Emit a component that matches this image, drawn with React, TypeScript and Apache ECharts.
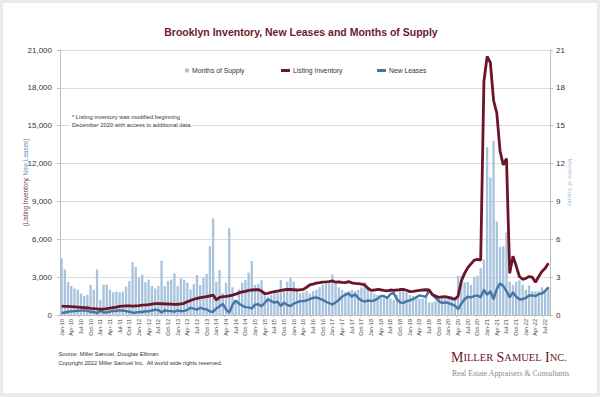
import React, { useEffect, useRef } from "react";
import * as echarts from "echarts";

const MONTH_NAMES = ["Jan", "Feb", "Mar", "Apr", "May", "Jun", "Jul", "Aug", "Sep", "Oct", "Nov", "Dec"];
const YEAR_SUFFIXES = ["10", "11", "12", "13", "14", "15", "16", "17", "18", "19", "20", "21", "22"];
const LAST_YEAR_MONTHS = 8; // data runs through Aug-22

const categories: string[] = [];
YEAR_SUFFIXES.forEach((y, yi) => {
  const n = yi === YEAR_SUFFIXES.length - 1 ? LAST_YEAR_MONTHS : 12;
  for (let m = 0; m < n; m++) categories.push(`${MONTH_NAMES[m]}-${y}`);
});

// Listing Inventory (left axis)
const listingInventory = [
  700, 690, 680, 670, 650, 630, 610, 590, 560, 530, 510, 480,
  460, 470, 500, 540, 580, 620, 680, 710, 720, 720, 710, 730,
  750, 780, 800, 830, 870, 900, 900, 890, 880, 870, 860, 840,
  850, 880, 930, 1050, 1150, 1250, 1320, 1380, 1420, 1450, 1520, 1580,
  1200, 1400, 1450, 1480, 1520, 1580, 1650, 1750, 1830, 1880, 1950, 1980,
  2000, 2010, 1900, 1700, 1720, 1800, 1850, 1900, 1950, 2000, 2030, 2020,
  2000, 1980, 2000, 2030, 2200, 2380, 2450, 2530, 2560, 2600, 2620, 2650,
  2700, 2600, 2620, 2580, 2560, 2640, 2550, 2500, 2480, 2450, 2380, 2120,
  1950, 1980, 2030, 2000, 1950, 1920, 1980, 1950, 1980, 2020, 2030, 1960,
  1850, 1880, 1920, 1950, 1980, 2000, 1980, 1620, 1500, 1400, 1430, 1450,
  1400, 1320, 1250, 1500, 2700, 3300, 3750, 4050, 4350, 4400, 4350, 18500,
  20500, 20000, 17000, 16000, 13000, 11900, 12400, 3300, 4650, 3900, 3050, 2830,
  2900, 3050, 3000, 2600, 3050, 3450, 3700, 4100,
];

// New Leases (left axis)
const newLeases = [
  160, 200, 260, 290, 310, 330, 350, 370, 330, 240, 250, 140,
  360, 200, 220, 270, 320, 340, 370, 360, 310, 260, 180, 190,
  250, 240, 300, 290, 360, 420, 390, 200, 370, 320, 310, 260,
  370, 300, 330, 410, 570, 510, 420, 580, 480, 450, 280, 260,
  520, 700, 880, 450, 180, 800, 1150, 900, 750, 620, 600, 520,
  820, 850, 700, 950, 1250, 1100, 980, 1050, 720, 980, 800, 700,
  900, 1000, 1100, 1100, 1150, 1250, 1350, 1400, 1300, 1200, 1050, 950,
  830, 1000, 1200, 1450, 1600, 1720, 1450, 1650, 1350, 1150, 1050, 1150,
  1100, 1150, 1300, 1500, 1500, 1350, 1650, 1750, 1250, 1000, 950, 1100,
  1150, 1250, 1400, 1550, 1500, 1450, 1950, 1600, 1350, 1100, 950, 1000,
  950, 850, 750, 470, 900, 1250, 1450, 1400, 1500, 1550, 1400, 2000,
  1600, 1900, 1250, 2050, 2500, 2300, 1900, 1400, 1800, 1450, 1250, 1250,
  1350, 1550, 1550, 1500, 1650, 1700, 1900, 2200,
];

// Months of Supply (right axis)
const monthsOfSupply = [
  4.5, 3.6, 2.6, 2.3, 2.1, 2.0, 1.7, 1.5, 1.6, 2.4, 2.0, 3.6,
  1.2, 2.4, 2.4, 2.0, 1.8, 1.85, 1.8, 1.85, 2.25, 2.7, 4.2, 3.8,
  3.0, 3.2, 2.6, 2.8, 2.3, 2.1, 2.3, 4.3, 2.3, 2.7, 2.8, 3.3,
  2.3, 2.9, 2.8, 2.56, 2.03, 2.45, 3.17, 2.38, 2.98, 3.25, 5.47, 7.66,
  2.64, 3.57, 1.72, 2.56, 6.87, 2.19, 1.19, 2.03, 2.56, 2.77, 3.35, 4.28,
  2.38, 2.45, 2.77, 1.85, 1.45, 1.58, 1.85, 1.77, 2.77, 1.98, 2.64, 2.96,
  2.64, 1.98, 1.72, 1.8, 1.9, 1.7, 1.9, 2.0, 2.2, 2.4, 2.5, 2.5,
  3.2, 2.5, 2.2, 2.0, 1.8, 1.9, 2.0, 1.9, 2.0, 2.2, 2.6, 2.1,
  1.8, 1.7, 1.6, 1.4, 1.4, 1.5, 1.3, 1.2, 1.6, 1.9, 2.0, 1.8,
  1.6, 1.5, 1.4, 1.3, 1.3, 1.4, 1.0, 1.0, 1.1, 1.3, 1.4, 1.4,
  1.4, 1.5, 1.4, 3.1, 3.1, 2.6, 2.6, 2.4, 3.0, 3.1, 3.7, 4.4,
  13.3, 10.9, 13.8, 7.4, 5.4, 5.45, 6.55, 2.64, 2.4, 2.64, 2.75, 2.4,
  2.0, 2.35, 1.9, 1.85, 1.9, 2.2, 1.9, 2.2,
];

const LEFT_MAX = 21000;
const LEFT_INTERVAL = 3000;
const RIGHT_MAX = 21;
const RIGHT_INTERVAL = 3;

const TITLE = "Brooklyn Inventory, New Leases and Months of Supply";
const NOTE_LINES = ["* Listing inventory was modified beginning", "December 2020 with access to additional data."];
const SOURCE = "Source: Miller Samuel, Douglas Elliman";
const COPYRIGHT = "Copyright 2022 Miller Samuel Inc.  All world wide rights reserved.";

const SANS = "'Liberation Sans', Arial, sans-serif";
const SERIF = "'Liberation Serif', 'DejaVu Serif', serif";
const MAROON = "#6b1528";
const BLUE = "#4575a5";
const BAR = "#a8c3dd";

const fmt = (v: number) => String(v).replace(/\B(?=(\d{3})+(?!\d))/g, ",");

function txt(x: number, y: number, text: string, style: any, extra: any = {}) {
  return {
    type: "text",
    x,
    y,
    z: 10,
    ...extra,
    style: {
      text,
      fontFamily: SANS,
      textAlign: "left",
      textVerticalAlign: "middle",
      align: "left",
      verticalAlign: "middle",
      ...style,
    },
  };
}

export default function App() {
  const ref = useRef<HTMLDivElement>(null);
  useEffect(() => {
    if (!ref.current) return;
    const chart = echarts.init(ref.current, null, { renderer: "svg" });
    const legendBase = {
      top: 67,
      padding: 0,
      itemGap: 0,
      textStyle: { fontSize: 6.8, color: "#333", fontFamily: SANS, padding: [0, 0, 0, -2] },
      selectedMode: false,
    };
    chart.setOption({
      animation: false,
      backgroundColor: "#ebebeb",
      textStyle: { fontFamily: SANS },
      grid: { left: 60, right: 50, top: 50, bottom: 82 },
      legend: [
        { ...legendBase, left: 185, data: [{ name: "Months of Supply", icon: "rect" }], itemWidth: 4, itemHeight: 4 },
        { ...legendBase, left: 281, data: [{ name: "Listing Inventory", icon: "rect" }], itemWidth: 9, itemHeight: 3 },
        { ...legendBase, left: 377, data: [{ name: "New Leases", icon: "rect" }], itemWidth: 9, itemHeight: 3 },
      ],
      xAxis: {
        type: "category",
        data: categories,
        boundaryGap: true,
        axisLine: { lineStyle: { color: "#bfbfbf" } },
        axisTick: { show: true, interval: 2, length: 2, lineStyle: { color: "#bfbfbf" } },
        axisLabel: { interval: 2, rotate: 90, fontSize: 5.6, color: "#444", margin: 4, fontFamily: SANS },
        splitLine: { show: false },
      },
      yAxis: [
        {
          type: "value",
          min: 0,
          max: LEFT_MAX,
          interval: LEFT_INTERVAL,
          axisLine: { show: true, lineStyle: { color: "#bfbfbf" } },
          axisTick: { show: true, length: 3, lineStyle: { color: "#bfbfbf" } },
          axisLabel: { fontSize: 8, color: "#333", margin: 8, formatter: fmt, fontFamily: SANS },
          splitLine: { show: true, lineStyle: { color: "#dcdcdc", width: 1 } },
        },
        {
          type: "value",
          position: "right",
          min: 0,
          max: RIGHT_MAX,
          interval: RIGHT_INTERVAL,
          axisLine: { show: true, lineStyle: { color: "#bfbfbf" } },
          axisTick: { show: true, length: 3, lineStyle: { color: "#bfbfbf" } },
          axisLabel: { fontSize: 8, color: "#333", margin: 6, fontFamily: SANS },
          splitLine: { show: false },
        },
      ],
      series: [
        {
          name: "Months of Supply",
          type: "bar",
          yAxisIndex: 1,
          data: monthsOfSupply,
          itemStyle: { color: BAR },
          barCategoryGap: "28%",
          z: 2,
        },
        {
          name: "New Leases",
          type: "line",
          data: newLeases,
          showSymbol: false,
          symbol: "none",
          lineStyle: { color: BLUE, width: 2.4 },
          itemStyle: { color: BLUE },
          z: 3,
        },
        {
          name: "Listing Inventory",
          type: "line",
          data: listingInventory,
          showSymbol: false,
          symbol: "none",
          lineStyle: { color: MAROON, width: 2.8 },
          itemStyle: { color: MAROON },
          z: 4,
        },
      ],
      graphic: {
        elements: [
          {
            type: "rect",
            z: -100,
            shape: { x: 3, y: 3, width: 594, height: 390 },
            style: { fill: "#ffffff" },
          },
          {
            type: "rect",
            z: 9,
            shape: { x: 70, y: 112, width: 122, height: 17 },
            style: { fill: "#ffffff" },
          },
          txt(301, 32, TITLE, { fontSize: 10.5, fontWeight: "bold", fill: "#6d1a2c", textAlign: "center", align: "center" }),
          txt(72, 117, NOTE_LINES[0], { fontSize: 5.8, fill: "#333" }),
          txt(72, 124.5, NOTE_LINES[1], { fontSize: 5.8, fill: "#333" }),
          txt(25, 182.5, "", {
            text: "{a|(Listing Inventory, }{b|New Leases)}",
            textAlign: "center",
            align: "center",
            rich: {
              a: { fontSize: 6.3, fill: "#7f2a3a", color: "#7f2a3a", fontFamily: SANS },
              b: { fontSize: 6.3, fill: "#5f90c0", color: "#5f90c0", fontFamily: SANS },
            },
          }, { rotation: Math.PI / 2 }),
          txt(570, 182.5, "Months of Supply", {
            fontSize: 6.2,
            fill: "#a8c3dd",
            textAlign: "center",
            align: "center",
          }, { rotation: -Math.PI / 2 }),
          txt(58.5, 354, SOURCE, { fontSize: 5.7, fill: "#333" }),
          txt(58.5, 363, COPYRIGHT, { fontSize: 5.7, fill: "#333" }),
          txt(451, 357, "", {
            text: "{b|M}{s|ILLER} {b|S}{s|AMUEL} {b|I}{s|NC.}",
            fill: MAROON,
            rich: {
              b: { fontSize: 14, fontFamily: SERIF, fill: MAROON, color: MAROON },
              s: { fontSize: 10.5, fontFamily: SERIF, fill: MAROON, color: MAROON },
            },
          }),
          txt(452, 373, "Real Estate Appraisers & Consultants", {
            fontSize: 7.8,
            fontFamily: SERIF,
            fill: "#8a8a8a",
          }),
        ],
      },
    });
    return () => chart.dispose();
  }, []);
  return <div ref={ref} style={{ position: "fixed", left: 0, top: 0, width: 600, height: 397 }} />;
}
